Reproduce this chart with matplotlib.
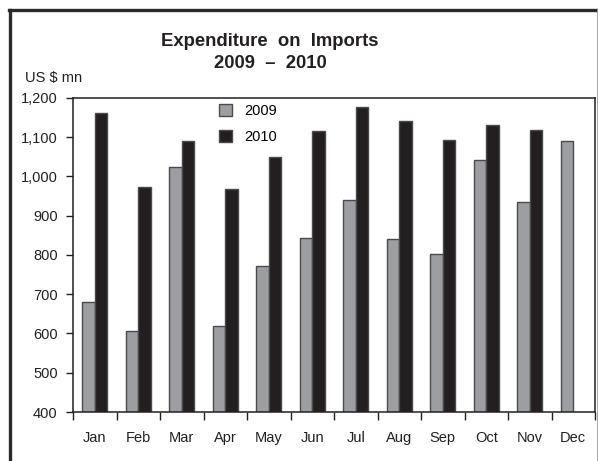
import matplotlib
matplotlib.use("Agg")
import matplotlib.pyplot as plt
import numpy as np
from matplotlib.patches import Patch
from matplotlib.lines import Line2D

months = ["Jan", "Feb", "Mar", "Apr", "May", "Jun", "Jul", "Aug", "Sep", "Oct", "Nov", "Dec"]
imports_2009 = [681, 606, 1023, 620, 773, 844, 939, 842, 803, 1043, 934, 1091]
imports_2010 = [1161, 973, 1090, 967, 1050, 1117, 1178, 1141, 1092, 1130, 1118, np.nan]
yticks = [400, 500, 600, 700, 800, 900, 1000, 1100, 1200]

plt.rcParams['font.family'] = ['Liberation Sans', 'DejaVu Sans']

W, H = 598, 461
fig = plt.figure(figsize=(W / 100, H / 100), dpi=100)

def fx(px):
    return px / W

def fy(py):
    return 1 - py / H

# outer frame
fig.add_artist(Line2D([fx(10), fx(10)], [fy(10), fy(470)], color="#2a2a2a", lw=2.4, transform=fig.transFigure))
fig.add_artist(Line2D([fx(9), fx(610)], [fy(10), fy(10)], color="#2a2a2a", lw=2.4, transform=fig.transFigure))
fig.add_artist(Line2D([fx(597.5), fx(597.5)], [fy(10), fy(470)], color="#9a9a9a", lw=1.2, transform=fig.transFigure))

ax = fig.add_axes([fx(73), fy(412), fx(595) - fx(73), fy(98) - fy(412)])

x = np.arange(len(months))
w = 0.29
gray = "#9d9ea2"
black = "#231f20"
edge = "#4a4a4a"
ax.bar(x - w / 2, imports_2009, width=w, color=gray, edgecolor=edge, linewidth=1.0, label="2009")
ax.bar(x + w / 2, imports_2010, width=w, color=black, edgecolor=edge, linewidth=1.0, label="2010")

ax.set_xlim(-0.5, len(months) - 0.5)
ax.set_ylim(400, 1200)
ax.set_yticks(yticks)
ax.set_yticklabels([f"{v:,}" for v in yticks], fontsize=10.5, color="#231f20")
ax.set_xticks(x)
ax.set_xticklabels(months, fontsize=10.5, color="#231f20")
ax.tick_params(axis="x", which="major", length=0, pad=14)
ax.set_xticks(np.arange(-0.5, len(months)), minor=True)
ax.tick_params(axis="x", which="minor", length=6, width=1.0, direction="out", color="#231f20")
ax.tick_params(axis="y", length=5, width=1.0, direction="out", pad=6, color="#231f20")
for s in ax.spines.values():
    s.set_color("#231f20")
    s.set_linewidth(1.1)

handles = [Patch(facecolor=gray, edgecolor=edge, label="2009"),
           Patch(facecolor=black, edgecolor=edge, label="2010")]
ax.legend(handles=handles, loc="upper left", bbox_to_anchor=((219 - 73) / 522, (412 - 104) / 314),
          frameon=False, fontsize=10.5, handlelength=0.9, handleheight=0.9,
          handletextpad=0.85, labelspacing=0.8, borderpad=0, borderaxespad=0)

fig.text(fx(270), fy(41), "Expenditure  on  Imports", ha="center", va="center",
         fontsize=13.3, fontweight="bold", color="#231f20")
fig.text(fx(270), fy(64), "2009  \u2013  2010", ha="center", va="center",
         fontsize=13.3, fontweight="bold", color="#231f20")
fig.text(fx(25), fy(78), "US $ mn", ha="left", va="center", fontsize=10.5, color="#231f20")

fig.savefig("out.png", dpi=100, facecolor="white")
